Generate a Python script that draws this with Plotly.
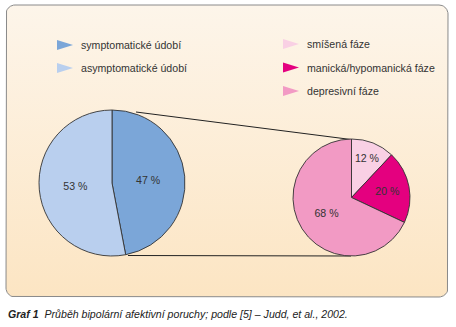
import numpy as np
import plotly.graph_objects as go

W, H = 456, 327

# ---- data ----
left_labels = ["symptomatické údobí", "asymptomatické údobí"]
left_values = [47, 53]
left_colors = ["#7ba6d8", "#b9cfee"]

right_labels = ["smíšená fáze", "manická/hypomanická fáze", "depresivní fáze"]
right_values = [12, 20, 68]
right_colors = ["#f9d0e4", "#e4007f", "#f29ac4"]

caption_bold = "Graf 1"
caption_text = "Průběh bipolární afektivní poruchy; podle [5] – Judd, et al., 2002."

FONT = "Liberation Sans, Arial, sans-serif"
TXT = "#333333"
FS = 10.6

fig = go.Figure()

# ---- panel (rounded rectangle with vertical gradient) ----
x0, x1, y0, y1, r = 6, 448, 5, 297, 9
pts = []
for cx, cy, a0 in [(x1 - r, y0 + r, -90), (x1 - r, y1 - r, 0), (x0 + r, y1 - r, 90), (x0 + r, y0 + r, 180)]:
    for a in np.linspace(a0, a0 + 90, 10):
        pts.append((cx + r * np.cos(np.radians(a)), cy + r * np.sin(np.radians(a))))
pts.append(pts[0])
px, py = zip(*pts)
fig.add_trace(go.Scatter(
    x=px, y=py, mode="lines", fill="toself",
    line=dict(color="#8a8a8a", width=1),
    fillgradient=dict(type="vertical", start=y0, stop=y1,
                      colorscale=[[0, "#fdf5ea"], [1, "#fce5c3"]]),
    hoverinfo="skip", showlegend=False))

# ---- connector lines ----
fig.add_trace(go.Scatter(x=[136, 351], y=[112, 139.5], mode="lines",
                         line=dict(color="#222222", width=1), hoverinfo="skip", showlegend=False))
fig.add_trace(go.Scatter(x=[128, 351], y=[255.5, 256], mode="lines",
                         line=dict(color="#222222", width=1), hoverinfo="skip", showlegend=False))

# ---- legends (triangle markers + text) ----
def legend(items, colors, tx, ty, dy):
    for i, (lab, col) in enumerate(zip(items, colors)):
        cy = ty + i * dy
        fig.add_trace(go.Scatter(
            x=[tx - 22, tx - 6, tx - 22, tx - 22], y=[cy - 5, cy, cy + 5, cy - 5],
            mode="lines", fill="toself", fillcolor=col, line=dict(width=0, color=col),
            hoverinfo="skip", showlegend=False))
        fig.add_annotation(x=tx, y=cy, xref="x", yref="y", text=lab, showarrow=False,
                           xanchor="left", yanchor="middle",
                           font=dict(family=FONT, size=FS, color=TXT))

legend(left_labels, left_colors, 79, 45, 23)
legend(right_labels, right_colors, 305, 44, 23.5)

# ---- pies ----
def dom(xa, xb, ya, yb):
    return dict(x=[xa / W, xb / W], y=[1 - yb / H, 1 - ya / H])

fig.add_trace(go.Pie(
    values=left_values, labels=left_labels, sort=False, direction="clockwise", rotation=0,
    marker=dict(colors=left_colors, line=dict(color="#333333", width=0.9)),
    texttemplate="%{value} %", textposition="inside", insidetextorientation="horizontal",
    textfont=dict(family=FONT, size=FS, color=TXT),
    domain=dom(39, 185, 110, 256), showlegend=False, hoverinfo="label+value"))

fig.add_trace(go.Pie(
    values=right_values, labels=right_labels, sort=False, direction="clockwise", rotation=0,
    marker=dict(colors=right_colors, line=dict(color="#333333", width=0.9)),
    texttemplate="%{value} %", textposition="inside", insidetextorientation="horizontal",
    textfont=dict(family=FONT, size=FS, color=TXT),
    domain=dom(293, 410, 139, 256), showlegend=False, hoverinfo="label+value"))

# ---- caption ----
fig.add_annotation(x=6, y=314, xref="x", yref="y",
                   text=f"<b><i>{caption_bold}</i></b>&nbsp;&nbsp;<i>{caption_text}</i>",
                   showarrow=False, xanchor="left", yanchor="middle",
                   font=dict(family=FONT, size=FS, color="#222222"))

fig.update_layout(
    width=W, height=H, margin=dict(l=0, r=0, t=0, b=0),
    paper_bgcolor="white", plot_bgcolor="rgba(0,0,0,0)",
    xaxis=dict(range=[0, W], visible=False, fixedrange=True, domain=[0, 1]),
    yaxis=dict(range=[H, 0], visible=False, fixedrange=True, domain=[0, 1]),
    showlegend=False,
)

fig.write_html("out.html")
